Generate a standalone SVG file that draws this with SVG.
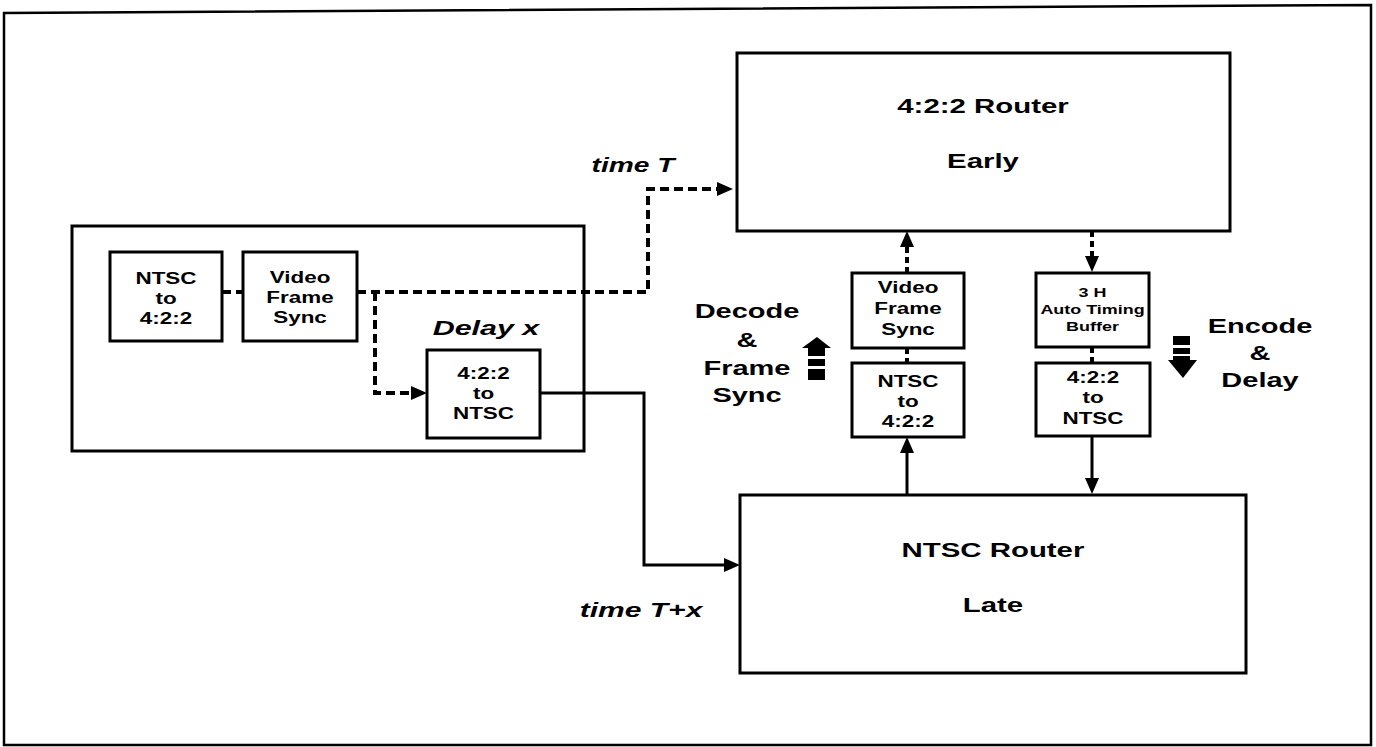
<svg xmlns="http://www.w3.org/2000/svg" width="1376" height="747" viewBox="0 0 1376 747">
<style>
.bg{fill:#fff}
.box{fill:#fff;stroke:#000;stroke-width:3}
.frame{fill:none;stroke:#000;stroke-width:2.5}
.t{font-family:"Liberation Sans",Arial,sans-serif;font-weight:bold;fill:#000;text-anchor:middle}
.s17{font-size:17px}
.s13{font-size:13px}
.s21{font-size:21px}
.it{font-style:italic}
.dash{fill:none;stroke:#000;stroke-width:4;stroke-dasharray:9 5}
.dot{fill:none;stroke:#000;stroke-width:4;stroke-dasharray:6 4}
.solid{fill:none;stroke:#000;stroke-width:3}
.blk{fill:#000}
</style>
<defs>
<marker id="ah" viewBox="0 0 16 14" refX="0" refY="7" markerWidth="16" markerHeight="14" markerUnits="userSpaceOnUse" orient="auto">
<path d="M0,0 L16,7 L0,14 z" fill="#000"/>
</marker>
</defs>
<rect class="bg" x="0" y="0" width="1376" height="747"/>
<path class="frame" d="M4,13 L1371,5 L1371,745 L4,745 Z"/>

<g id="delay-unit">
<rect class="box" x="72" y="226" width="512" height="225"/>
<g transform="translate(486 0) scale(1.45 1)"><text class="t s21 it" x="0" y="335">Delay x</text></g>
</g>

<g id="ntsc-to-422-a">
<rect class="box" x="110" y="252" width="112" height="89"/>
<g transform="translate(166 0) scale(1.32 1)">
<text class="t s17" x="0" y="284">NTSC</text>
<text class="t s17" x="0" y="304">to</text>
<text class="t s17" x="0" y="324">4:2:2</text>
</g>
</g>

<g id="frame-sync-a">
<rect class="box" x="243" y="252" width="114" height="89"/>
<g transform="translate(300 0) scale(1.32 1)">
<text class="t s17" x="0" y="283">Video</text>
<text class="t s17" x="0" y="303">Frame</text>
<text class="t s17" x="0" y="323">Sync</text>
</g>
</g>

<g id="422-to-ntsc-a">
<rect class="box" x="427" y="350" width="113" height="88"/>
<g transform="translate(483.5 0) scale(1.32 1)">
<text class="t s17" x="0" y="379">4:2:2</text>
<text class="t s17" x="0" y="399">to</text>
<text class="t s17" x="0" y="419">NTSC</text>
</g>
</g>

<g id="router-early">
<rect class="box" x="737" y="53" width="493" height="178"/>
<g transform="translate(983 0) scale(1.4 1)">
<text class="t s21" x="0" y="113">4:2:2 Router</text>
<text class="t s21" x="0" y="168">Early</text>
</g>
</g>

<g id="router-late">
<rect class="box" x="740" y="495" width="506" height="178"/>
<g transform="translate(993 0) scale(1.4 1)">
<text class="t s21" x="0" y="557">NTSC Router</text>
<text class="t s21" x="0" y="612">Late</text>
</g>
</g>

<g id="frame-sync-b">
<rect class="box" x="852" y="273" width="112" height="75"/>
<g transform="translate(908 0) scale(1.32 1)">
<text class="t s17" x="0" y="293">Video</text>
<text class="t s17" x="0" y="314">Frame</text>
<text class="t s17" x="0" y="335">Sync</text>
</g>
</g>

<g id="ntsc-to-422-b">
<rect class="box" x="852" y="363" width="112" height="74"/>
<g transform="translate(908 0) scale(1.32 1)">
<text class="t s17" x="0" y="387">NTSC</text>
<text class="t s17" x="0" y="407">to</text>
<text class="t s17" x="0" y="427">4:2:2</text>
</g>
</g>

<g id="timing-buffer">
<rect class="box" x="1036" y="273" width="113" height="74"/>
<g transform="translate(1092.5 0) scale(1.38 1)">
<text class="t s13" x="0" y="297">3 H</text>
<text class="t s13" x="0" y="314">Auto Timing</text>
<text class="t s13" x="0" y="331">Buffer</text>
</g>
</g>

<g id="422-to-ntsc-b">
<rect class="box" x="1036" y="363" width="114" height="73"/>
<g transform="translate(1093 0) scale(1.32 1)">
<text class="t s17" x="0" y="383">4:2:2</text>
<text class="t s17" x="0" y="403">to</text>
<text class="t s17" x="0" y="424">NTSC</text>
</g>
</g>

<g id="decode-label">
<g transform="translate(747 0) scale(1.38 1)">
<text class="t s21" x="0" y="318">Decode</text>
<text class="t s21" x="0" y="347">&amp;</text>
<text class="t s21" x="0" y="375">Frame</text>
<text class="t s21" x="0" y="402">Sync</text>
</g>
<path class="blk" d="M802,348 L817,337 L831,348 Z"/>
<rect class="blk" x="808" y="348" width="17" height="8"/>
<rect class="blk" x="808" y="359" width="17" height="7"/>
<rect class="blk" x="808" y="369" width="17" height="11"/>
</g>

<g id="encode-label">
<g transform="translate(1260 0) scale(1.38 1)">
<text class="t s21" x="0" y="333">Encode</text>
<text class="t s21" x="0" y="360">&amp;</text>
<text class="t s21" x="0" y="387">Delay</text>
</g>
<rect class="blk" x="1173" y="336" width="17" height="9"/>
<rect class="blk" x="1173" y="348" width="17" height="6"/>
<rect class="blk" x="1173" y="356" width="17" height="5"/>
<path class="blk" d="M1168,360 L1197,360 L1183,378 Z"/>
</g>

<g id="time-labels">
<g transform="translate(633 0) scale(1.34 1)"><text class="t s21 it" x="0" y="172">time T</text></g>
<g transform="translate(641 0) scale(1.43 1)"><text class="t s21 it" x="0" y="617">time T+x</text></g>
</g>

<g id="connectors">
<path class="dash" d="M222,292 H243"/>
<path class="dash" d="M357,292 H648 V189 H717" marker-end="url(#ah)"/>
<path class="dash" d="M375,292 V393 H411" marker-end="url(#ah)"/>
<path class="solid" d="M540,393 H644 V565 H724" marker-end="url(#ah)"/>
<path class="dot" d="M907,273 V247" marker-end="url(#ah)"/>
<path class="dot" d="M907,348 V363"/>
<path class="solid" d="M907,495 V453" marker-end="url(#ah)"/>
<path class="dot" d="M1092,231 V256" marker-end="url(#ah)"/>
<path class="dot" d="M1092,347 V363"/>
<path class="solid" d="M1092,436 V478" marker-end="url(#ah)"/>
</g>
</svg>
